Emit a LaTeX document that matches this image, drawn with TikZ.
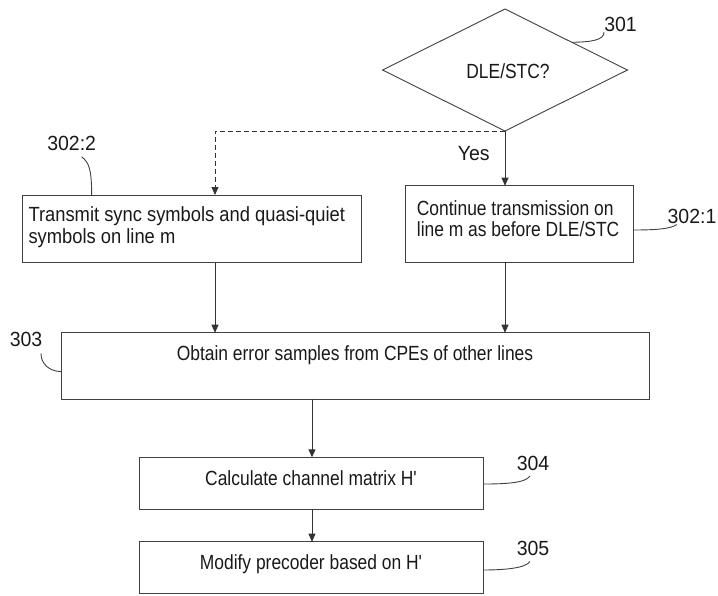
\documentclass[tikz,border=0pt]{standalone}
\usepackage{fontspec}
\setmainfont{Liberation Sans}
\newfontfamily\boxfont{Liberation Sans}[FakeStretch=0.85]
\newfontfamily\wideboxfont{Liberation Sans}[FakeStretch=0.895]
\newfontfamily\labfont{Liberation Sans}[FakeStretch=0.95]
\usetikzlibrary{shapes.geometric,arrows.meta}
\begin{document}
\begin{tikzpicture}[x=1pt,y=-1pt,
  boxstyle/.style={draw=black!75,line width=0.9pt,rectangle,inner sep=0pt,outer sep=0pt},
  txt/.style={inner sep=0pt,font=\boxfont\fontsize{20.5}{21.7}\selectfont,text=black!90},
  widetxt/.style={inner sep=0pt,font=\wideboxfont\fontsize{20.5}{21.7}\selectfont,text=black!90},
  lab/.style={inner sep=0pt,font=\labfont\fontsize{20.5}{21.7}\selectfont,text=black!90},
  arr/.style={draw=black!80,line width=0.9pt,-{Triangle[length=8pt,width=7pt]}},
  leader/.style={draw=black!75,line width=0.9pt}]
\useasboundingbox (0,0) rectangle (718,595);

% decision
\node[diamond,draw=black!75,line width=0.9pt,minimum width=245pt,minimum height=122pt,inner sep=0pt,outer sep=0pt] (d) at (505,70) {};
\node[txt,anchor=base] (dt) at (508,78.3) {DLE/STC?};
\node[lab,anchor=base] (l301) at (620.5,31.7) {301};
\coordinate (d301) at (571.7,42.3);
\draw[leader] (d301) .. controls (592,42) and (604,40) .. (l301.south west);

% boxes
\node[boxstyle,minimum width=339.4pt,minimum height=67.7pt] (b2) at (192,228.85) {};
\node[boxstyle,minimum width=227.3pt,minimum height=76.6pt] (b1) at (519.35,224) {};
\node[boxstyle,minimum width=588pt,minimum height=66.6pt] (b3) at (355,366) {};
\node[boxstyle,minimum width=344pt,minimum height=51.7pt] (b4) at (311.3,483.15) {};
\node[boxstyle,minimum width=344pt,minimum height=51.6pt] (b5) at (311.3,567.5) {};

% texts
\node[widetxt,anchor=base west] (t2a) at (28.3,221.7) {Transmit sync symbols and quasi-quiet};
\node[widetxt,anchor=base west] (t2b) at (28.3,243.3) {symbols on line m};
\node[txt,anchor=base west] (t1a) at (416.7,215) {Continue transmission on};
\node[txt,anchor=base west] (t1b) at (416.7,236.7) {line m as before DLE/STC};
\node[txt,anchor=base] (t3) at (355,360) {Obtain error samples from CPEs of other lines};
\node[txt,anchor=base] (t4) at (311,485) {Calculate channel matrix H'};
\node[txt,anchor=base] (t5) at (311,569) {Modify precoder based on H'};

% reference labels
\node[lab,anchor=base] (l3022) at (71.7,150) {302:2};
\node[lab,anchor=base] (l3021) at (692,223) {302:1};
\node[lab,anchor=base] (l303) at (26,346.7) {303};
\node[lab,anchor=base] (l304) at (533,470.7) {304};
\node[lab,anchor=base] (l305) at (533,555) {305};
\node[lab,anchor=base] (yes) at (473.8,160) {Yes};

% leaders
\coordinate (c3022) at (91.7,195);
\draw[leader] (c3022) .. controls (91.5,168) and (89,163) .. (81.7,156.7);
\coordinate (c3021) at (633,230);
\draw[leader] (c3021) .. controls (655,230) and (671,229) .. (676.7,224.5);
\coordinate (c303) at (61,371.7);
\draw[leader] (c303) .. controls (49,371) and (41,364) .. (41,353.3);
\coordinate (c304) at (483.3,484);
\draw[leader] (c304) .. controls (505,484) and (526,483) .. (530,476);
\coordinate (c305) at (483.3,570);
\draw[leader] (c305) .. controls (505,570) and (526,568) .. (530,561.5);

% connectors
\draw[arr] (d.south) -- (d.south |- b1.north);
\draw[arr,dash pattern=on 5pt off 3pt] (d.south) -- (215,131) -- (215,131 |- b2.north);
\draw[arr] (215,131 |- b2.south) -- (215,131 |- b3.north);
\draw[arr] (d.south |- b1.south) -- (d.south |- b3.north);
\draw[arr] (312,0 |- b3.south) -- (312,0 |- b4.north);
\draw[arr] (312,0 |- b4.south) -- (312,0 |- b5.north);
\end{tikzpicture}
\end{document}
